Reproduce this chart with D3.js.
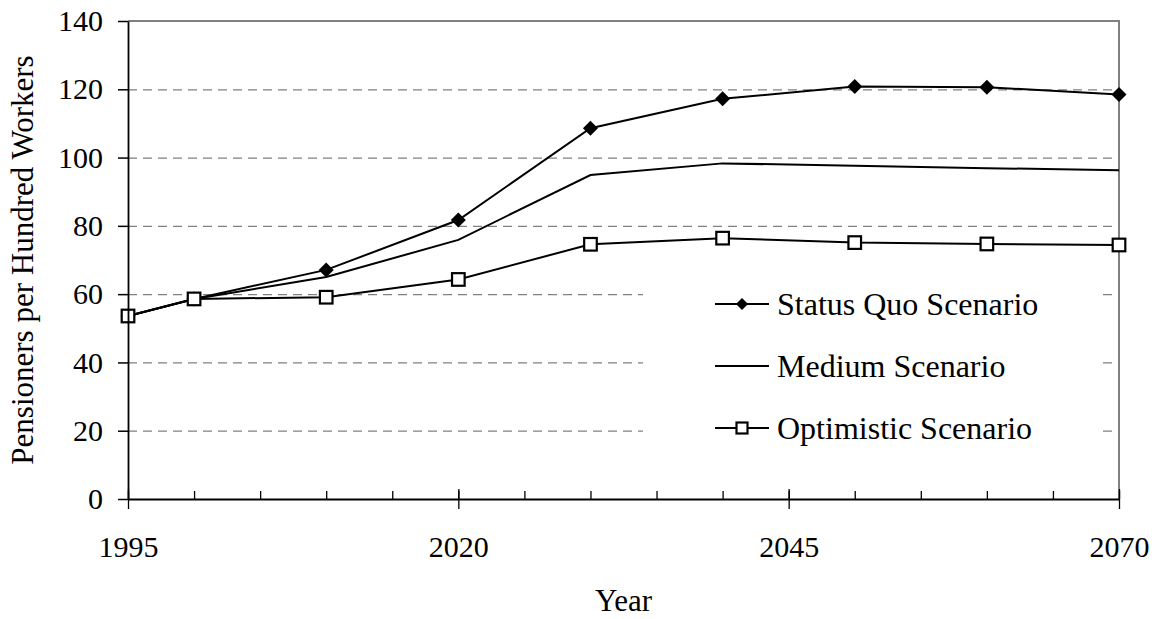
<!DOCTYPE html>
<html>
<head>
<meta charset="utf-8">
<script src="https://cdn.jsdelivr.net/npm/d3@7"></script>
<style>body { margin: 0; background: #fff; }</style>
</head>
<body>
<div id="main"></div>
<script>
// values
const years = [1995, 2000, 2010, 2020, 2030, 2040, 2050, 2060, 2070];
const statusQuo = [53.6, 58.6, 67.1, 81.7, 108.6, 117.2, 120.8, 120.6, 118.5];
const medium = [53.6, 58.6, 65.0, 75.9, 94.9, 98.3, 97.6, 96.9, 96.3];
const optimistic = [53.6, 58.6, 59.1, 64.3, 74.6, 76.4, 75.1, 74.7, 74.4];
const seriesNames = ["Status Quo Scenario", "Medium Scenario", "Optimistic Scenario"];
const xMajorTicks = [1995, 2020, 2045, 2070];
const xMinorTicks = d3.range(1995, 2071, 5);
const yTicks = [0, 20, 40, 60, 80, 100, 120, 140];

const width = 1163, height = 619;
const margin = {top: 21, right: 44, bottom: 120, left: 128};
const serif = "Liberation Serif";

const x = d3.scaleLinear()
    .domain([1995, 2070])
    .range([margin.left, width - margin.right]);

const y = d3.scaleLinear()
    .domain([0, 140])
    .range([height - margin.bottom, margin.top]);

const series = [
    {name: seriesNames[0], values: statusQuo, marker: "diamond"},
    {name: seriesNames[1], values: medium, marker: "none"},
    {name: seriesNames[2], values: optimistic, marker: "square"}
];

const svg = d3.select("#main").append("svg")
    .attr("width", width)
    .attr("height", height);

// dashed gridlines
svg.append("g")
    .selectAll("line")
    .data(yTicks.filter(d => d > 0 && d < 140))
    .join("line")
    .attr("x1", x(1995))
    .attr("x2", x(2070))
    .attr("y1", d => y(d) + 0.5)
    .attr("y2", d => y(d) + 0.5)
    .attr("stroke", "#808080")
    .attr("stroke-width", 1.3)
    .attr("stroke-dasharray", "9,6");

// plot area border (top, right)
svg.append("path")
    .attr("d", `M${x(1995)},${y(140)}H${x(2070)}V${y(0)}`)
    .attr("fill", "none")
    .attr("stroke", "#808080")
    .attr("stroke-width", 2);

// legend backdrop hides gridlines behind it
svg.append("rect")
    .attr("x", 643)
    .attr("y", 268)
    .attr("width", 457)
    .attr("height", 196)
    .attr("fill", "#fff");

const line = d3.line()
    .x((d, i) => x(years[i]))
    .y(d => y(d));

svg.append("g")
    .selectAll("path")
    .data(series)
    .join("path")
    .attr("d", d => line(d.values))
    .attr("fill", "none")
    .attr("stroke", "#000")
    .attr("stroke-width", 2);

function drawMarker(g, type, cx, cy, s) {
    if (type === "diamond") {
        g.append("path")
            .attr("d", `M${cx},${cy - s}L${cx + s},${cy}L${cx},${cy + s}L${cx - s},${cy}Z`)
            .attr("fill", "#000");
    } else if (type === "square") {
        g.append("rect")
            .attr("x", cx - s)
            .attr("y", cy - s)
            .attr("width", 2 * s)
            .attr("height", 2 * s)
            .attr("fill", "#fff")
            .attr("stroke", "#000")
            .attr("stroke-width", 2.2);
    }
}

const markers = svg.append("g");
series.forEach(s => {
    s.values.forEach((v, i) => {
        drawMarker(markers, s.marker, x(years[i]), y(v), s.marker === "diamond" ? 7.5 : 6.3);
    });
});

// y axis
svg.append("g")
    .attr("transform", `translate(${margin.left},0)`)
    .call(d3.axisLeft(y).tickValues(yTicks).tickSize(10).tickPadding(15).tickSizeOuter(0))
    .call(g => g.attr("font-family", serif))
    .call(g => g.select(".domain").attr("stroke-width", 1.8))
    .call(g => g.selectAll(".tick line").attr("stroke-width", 1.5))
    .call(g => g.selectAll("text")
        .attr("font-family", serif)
        .style("font-family", serif)
        .attr("font-size", 30)
        .attr("fill", "#000"));

// x axis: major ticks cross the axis, minor ticks point inward
svg.append("g")
    .attr("transform", `translate(0,${y(0)})`)
    .call(d3.axisBottom(x).tickValues(xMinorTicks).tickSize(-8).tickFormat(""))
    .call(g => g.select(".domain").remove())
    .call(g => g.selectAll(".tick line").attr("stroke-width", 1.3));

svg.append("g")
    .attr("transform", `translate(0,${y(0)})`)
    .call(d3.axisBottom(x).tickValues(xMajorTicks).tickFormat(d3.format("d")).tickSize(10).tickPadding(27).tickSizeOuter(0))
    .call(g => g.attr("font-family", serif))
    .call(g => g.select(".domain").attr("stroke-width", 1.8))
    .call(g => g.selectAll(".tick line").attr("y1", -10).attr("stroke-width", 1.3))
    .call(g => g.selectAll("text")
        .attr("font-family", serif)
        .style("font-family", serif)
        .attr("font-size", 30)
        .attr("fill", "#000"));

// axis titles
svg.append("text")
    .attr("transform", `translate(33,${(y(0) + y(140)) / 2}) rotate(-90)`)
    .attr("text-anchor", "middle")
    .attr("font-family", serif)
    .style("font-family", serif)
    .attr("font-size", 31)
    .text("Pensioners per Hundred Workers");

svg.append("text")
    .attr("x", (x(1995) + x(2070)) / 2)
    .attr("y", 611)
    .attr("text-anchor", "middle")
    .attr("font-family", serif)
    .style("font-family", serif)
    .attr("font-size", 31)
    .text("Year");

// legend
const legend = svg.append("g");
series.forEach((s, i) => {
    const ly = 304 + i * 62;
    legend.append("line")
        .attr("x1", 715)
        .attr("x2", 769)
        .attr("y1", ly)
        .attr("y2", ly)
        .attr("stroke", "#000")
        .attr("stroke-width", 2);
    drawMarker(legend, s.marker, 742, ly, s.marker === "diamond" ? 6 : 5.5);
    legend.append("text")
        .attr("x", 777)
        .attr("y", ly)
        .attr("dy", "0.35em")
        .attr("font-family", serif)
        .style("font-family", serif)
        .attr("font-size", 32)
        .text(s.name);
});
</script>
</body>
</html>
